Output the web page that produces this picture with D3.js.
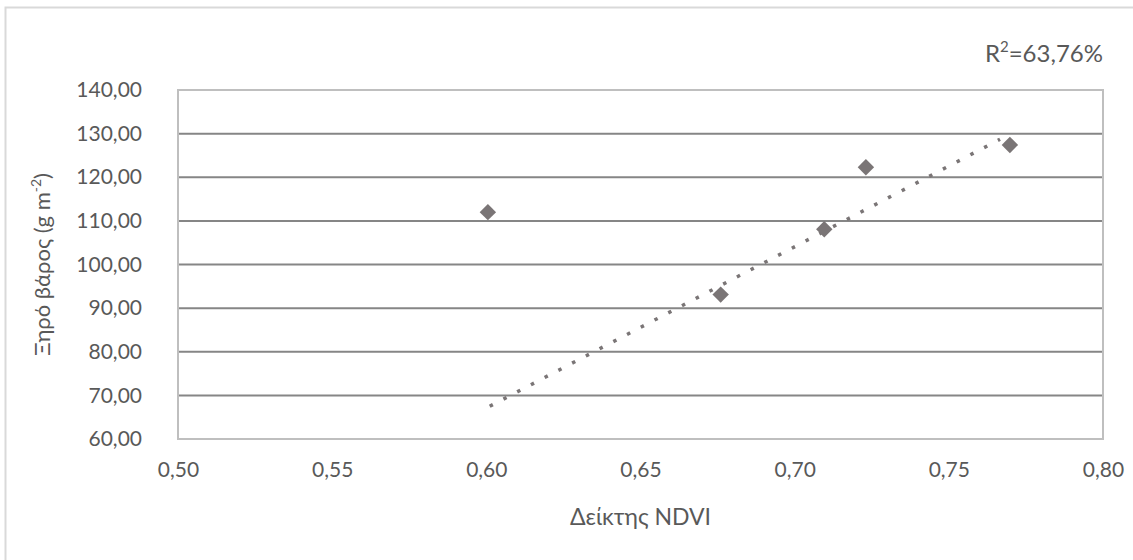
<!DOCTYPE html>
<html>
<head>
<meta charset="utf-8">
<script src="https://cdn.jsdelivr.net/npm/d3@7"></script>
<style>
  body { margin: 0; background: #fff; }
  svg text { font-family: Lato, "Open Sans", sans-serif; fill: #595959; }
</style>
</head>
<body>
<svg id="chart" width="1133" height="560"></svg>
<script>
const width = 1133;
const height = 560;

// data
const ndvi = [0.6005, 0.676, 0.7096, 0.7231, 0.7698];
const dryWeight = [112.0, 93.1, 108.1, 122.3, 127.4];
const trendX = [0.6011, 0.7666];
const trendY = [67.5, 128.7];
const xTicks = [0.50, 0.55, 0.60, 0.65, 0.70, 0.75, 0.80];
const yTicks = [60, 70, 80, 90, 100, 110, 120, 130, 140];
const r2Label = "63,76%";

const margin = { left: 178, right: 30, top: 90, bottom: 121 };
const svg = d3.select("#chart");
const grey = "#7a7576";

// outer chart frame
svg.append("rect")
    .attr("x", 5.5).attr("y", 7.5)
    .attr("width", 1200).attr("height", 700)
    .attr("fill", "none")
    .attr("stroke", "#d9d9d9")
    .attr("stroke-width", 2);

const x = d3.scaleLinear().domain([0.5, 0.8]).range([margin.left, width - margin.right]);
const y = d3.scaleLinear().domain([60, 140]).range([height - margin.bottom, margin.top]);

const fmt = d => d3.format(".2f")(d).replace(".", ",");

// gridlines
svg.append("g")
    .selectAll("line")
    .data(yTicks.slice(1, -1))
    .enter()
    .append("line")
    .attr("x1", x(0.5)).attr("x2", x(0.8))
    .attr("y1", d => y(d)).attr("y2", d => y(d))
    .attr("stroke", "#868686")
    .attr("stroke-width", 2);

// plot border
svg.append("rect")
    .attr("x", x(0.5)).attr("y", y(140))
    .attr("width", x(0.8) - x(0.5))
    .attr("height", y(60) - y(140))
    .attr("fill", "none")
    .attr("stroke", "#bfbfbf")
    .attr("stroke-width", 2);

// axes (labels only)
const yAxis = svg.append("g")
    .attr("transform", `translate(${x(0.5) - 33},0)`)
    .call(d3.axisLeft(y).tickValues(yTicks).tickFormat(fmt).tickSize(0));
const xAxis = svg.append("g")
    .attr("transform", `translate(0,${y(60) + 20})`)
    .call(d3.axisBottom(x).tickValues(xTicks).tickFormat(fmt).tickSize(0));
[xAxis, yAxis].forEach(a => {
    a.select(".domain").remove();
    a.selectAll("text")
        .style("font-family", "Lato, 'Open Sans', sans-serif")
        .style("font-size", "21px")
        .attr("fill", "#595959");
});

// trendline
svg.append("line")
    .attr("x1", x(trendX[0])).attr("y1", y(trendY[0]))
    .attr("x2", x(trendX[1])).attr("y2", y(trendY[1]))
    .attr("stroke", grey)
    .attr("stroke-width", 3.5)
    .attr("stroke-dasharray", "3.5,12");

// points
svg.append("g")
    .selectAll("path")
    .data(ndvi.map((v, i) => [v, dryWeight[i]]))
    .enter()
    .append("path")
    .attr("d", d3.symbol().type(d3.symbolSquare).size(135))
    .attr("transform", d => `translate(${x(d[0])},${y(d[1])}) rotate(45)`)
    .attr("fill", grey);

// axis titles
svg.append("text")
    .attr("x", (x(0.5) + x(0.8)) / 2)
    .attr("y", 525)
    .attr("text-anchor", "middle")
    .style("font-size", "23px")
    .text("Δείκτης NDVI");

const yt = svg.append("text")
    .attr("transform", `translate(50,${(y(60) + y(140)) / 2}) rotate(-90)`)
    .attr("text-anchor", "middle")
    .style("font-size", "22px");
yt.append("tspan").text("Ξηρό βάρος (g m");
yt.append("tspan").attr("dy", -9).style("font-size", "14px").text("-2");
yt.append("tspan").attr("dy", 9).text(")");

const r2 = svg.append("text")
    .attr("x", x(0.8))
    .attr("y", 62)
    .attr("text-anchor", "end")
    .style("font-size", "24px");
r2.append("tspan").text("R");
r2.append("tspan").attr("dy", -10).style("font-size", "15px").text("2");
r2.append("tspan").attr("dy", 10).text("=" + r2Label);
</script>
</body>
</html>
